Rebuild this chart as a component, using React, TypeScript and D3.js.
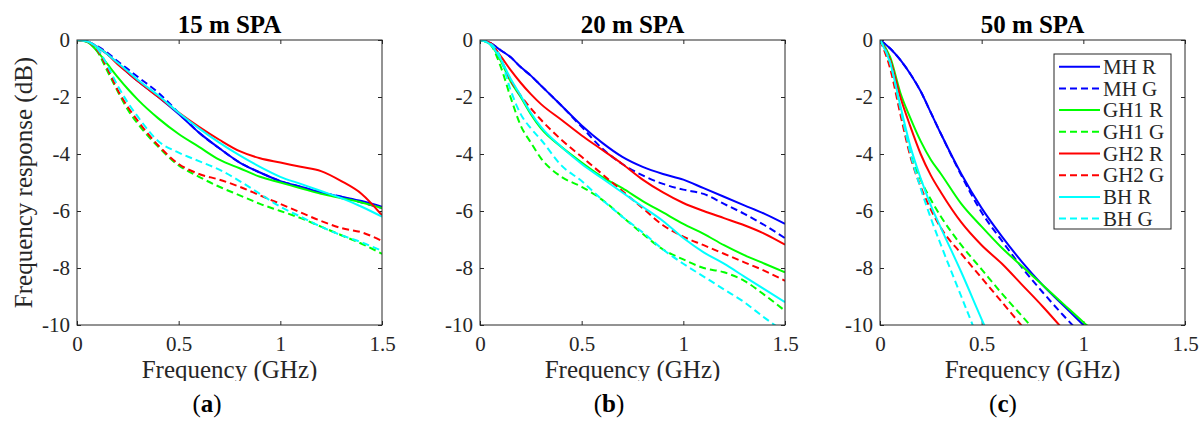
import React, { useEffect, useRef } from 'react';
import * as d3 from 'd3';

// frequency grid (GHz) shared by all curves
const FREQ = [0, 0.05, 0.1, 0.15, 0.2, 0.25, 0.3, 0.4, 0.5, 0.6, 0.7, 0.8, 0.9, 1.0, 1.1, 1.2, 1.3, 1.4, 1.5];
const X_TICKS = [0, 0.5, 1, 1.5];
const Y_TICKS = [0, -2, -4, -6, -8, -10];

const SERIES_NAMES = ['MH R', 'MH G', 'GH1 R', 'GH1 G', 'GH2 R', 'GH2 G', 'BH R', 'BH G'];
const SERIES_COLORS = ['#0000ff', '#0000ff', '#00ff00', '#00ff00', '#ff0000', '#ff0000', '#00ffff', '#00ffff'];
const SERIES_DASHED = [false, true, false, true, false, true, false, true];

const TITLES = ['15 m SPA', '20 m SPA', '50 m SPA'];
const CAPTIONS = ['a', 'b', 'c'];

// (a) 15 m SPA
const mhR15 = [0, -0.05, -0.25, -0.5, -0.82, -1.15, -1.45, -2.0, -2.6, -3.25, -3.8, -4.3, -4.65, -4.95, -5.15, -5.35, -5.5, -5.65, -5.85];
const mhG15 = [0, -0.05, -0.22, -0.45, -0.75, -1.02, -1.3, -1.85, -2.55, -3.25, -3.8, -4.3, -4.65, -4.95, -5.15, -5.35, -5.5, -5.7, -5.9];
const gh1R15 = [0, -0.07, -0.4, -0.85, -1.3, -1.72, -2.1, -2.75, -3.3, -3.75, -4.2, -4.5, -4.8, -5.0, -5.2, -5.4, -5.55, -5.7, -5.9];
const gh1G15 = [0, -0.06, -0.4, -1.1, -1.8, -2.45, -2.95, -3.75, -4.4, -4.8, -5.15, -5.45, -5.75, -6.0, -6.25, -6.55, -6.85, -7.15, -7.5];
const gh2R15 = [0, -0.05, -0.25, -0.5, -0.85, -1.15, -1.45, -2.0, -2.55, -3.05, -3.5, -3.9, -4.15, -4.3, -4.45, -4.6, -4.95, -5.4, -6.15];
const gh2G15 = [0, -0.06, -0.35, -1.0, -1.75, -2.35, -2.85, -3.7, -4.35, -4.7, -4.9, -5.15, -5.45, -5.75, -6.05, -6.35, -6.6, -6.75, -7.05];
const bhR15 = [0, -0.05, -0.25, -0.5, -0.8, -1.1, -1.4, -1.95, -2.55, -3.1, -3.6, -4.05, -4.45, -4.8, -5.05, -5.3, -5.55, -5.85, -6.2];
const bhG15 = [0, -0.05, -0.3, -0.9, -1.6, -2.2, -2.7, -3.55, -3.95, -4.25, -4.55, -4.95, -5.4, -5.85, -6.2, -6.55, -6.85, -7.1, -7.4];

// (b) 20 m SPA
const mhR20 = [0, -0.1, -0.35, -0.6, -0.95, -1.25, -1.6, -2.3, -3.0, -3.6, -4.1, -4.45, -4.7, -4.9, -5.2, -5.5, -5.8, -6.1, -6.45];
const mhG20 = [0, -0.1, -0.35, -0.6, -0.95, -1.25, -1.6, -2.3, -3.05, -3.8, -4.35, -4.75, -5.05, -5.25, -5.4, -5.75, -6.1, -6.5, -6.95];
const gh1R20 = [0, -0.15, -0.7, -1.45, -2.0, -2.6, -3.1, -3.75, -4.3, -4.8, -5.2, -5.65, -6.05, -6.45, -6.8, -7.2, -7.55, -7.85, -8.15];
const gh1G20 = [0, -0.15, -0.9, -2.0, -3.0, -3.6, -4.15, -4.8, -5.15, -5.6, -6.2, -6.8, -7.35, -7.7, -8.0, -8.15, -8.45, -8.95, -9.5];
const gh2R20 = [0, -0.1, -0.55, -1.05, -1.5, -1.9, -2.25, -2.8, -3.35, -3.85, -4.35, -4.9, -5.35, -5.72, -6.0, -6.25, -6.5, -6.8, -7.18];
const gh2G20 = [0, -0.1, -0.65, -1.4, -1.95, -2.4, -2.8, -3.5, -4.1, -4.7, -5.3, -5.9, -6.5, -6.9, -7.2, -7.5, -7.8, -8.1, -8.45];
const bhR20 = [0, -0.15, -0.65, -1.35, -1.95, -2.55, -3.05, -3.75, -4.35, -4.85, -5.35, -5.85, -6.35, -6.95, -7.45, -7.85, -8.3, -8.75, -9.2];
const bhG20 = [0, -0.12, -0.6, -1.75, -2.6, -3.1, -3.5, -4.4, -4.95, -5.6, -6.2, -6.75, -7.35, -7.85, -8.3, -8.75, -9.2, -9.75, -10.25];

// (c) 50 m SPA (curves leave the box at -10 dB)
const mhR50 = [0, -0.3, -0.7, -1.2, -1.8, -2.55, -3.3, -4.7, -5.9, -6.9, -7.8, -8.6, -9.3, -10.0, -10.7, null, null, null, null];
const mhG50 = [0, -0.3, -0.7, -1.2, -1.8, -2.55, -3.3, -4.75, -6.05, -7.05, -8.0, -8.85, -9.65, -10.4, null, null, null, null, null];
const gh1R50 = [0, -0.6, -1.85, -2.75, -3.55, -4.2, -4.7, -5.75, -6.55, -7.3, -7.95, -8.6, -9.25, -9.9, -10.5, null, null, null, null];
const gh1G50 = [0, -0.9, -2.45, -4.0, -4.9, -5.6, -6.2, -7.2, -8.05, -8.9, -9.7, -10.5, null, null, null, null, null, null, null];
const gh2R50 = [0, -0.7, -2.0, -3.05, -4.0, -4.75, -5.35, -6.4, -7.2, -7.85, -8.6, -9.35, -10.15, null, null, null, null, null, null];
const gh2G50 = [0, -1.0, -2.6, -4.1, -5.15, -5.95, -6.6, -7.5, -8.35, -9.2, -10.05, null, null, null, null, null, null, null, null];
const bhR50 = [0, -0.8, -2.3, -3.75, -4.85, -5.8, -6.6, -8.15, -9.8, -11.4, null, null, null, null, null, null, null, null, null];
const bhG50 = [0, -0.8, -2.4, -4.0, -5.2, -6.25, -7.2, -9.0, -10.8, null, null, null, null, null, null, null, null, null, null];

const PANELS = [
  [mhR15, mhG15, gh1R15, gh1G15, gh2R15, gh2G15, bhR15, bhG15],
  [mhR20, mhG20, gh1R20, gh1G20, gh2R20, gh2G20, bhR20, bhG20],
  [mhR50, mhG50, gh1R50, gh1G50, gh2R50, gh2G50, bhR50, bhG50],
];

const W = 1204;
const H = 424;
const PANEL_LEFT = [77, 480, 880];
const PLOT_W = 305;
const TOP = 40;
const BOTTOM = 325;
const CAPTION_X = [207, 609, 1003];
const FONT = '"Liberation Serif", "Times New Roman", serif';
const INK = '#262626';

const App = () => {
  const ref = useRef<SVGSVGElement>(null);

  useEffect(() => {
    const svg = d3.select(ref.current);
    svg.selectAll('*').remove();

    svg.append('rect').attr('width', W).attr('height', H).attr('fill', '#fff');

    // descenders of the x labels are cut in the original figure
    svg.append('clipPath').attr('id', 'xlabel-clip')
      .append('rect').attr('x', 0).attr('y', 0).attr('width', W).attr('height', 381);

    PANELS.forEach((series, p) => {
      const left = PANEL_LEFT[p];
      const x = d3.scaleLinear().domain([0, 1.5]).range([left, left + PLOT_W]);
      const y = d3.scaleLinear().domain([-10, 0]).range([BOTTOM, TOP]);

      const clipId = `plot-clip-${p}`;
      svg.append('clipPath').attr('id', clipId)
        .append('rect')
        .attr('x', left).attr('y', TOP)
        .attr('width', PLOT_W).attr('height', BOTTOM - TOP);

      // ticks (inside, on all four sides)
      const styleAxis = (g: any) => {
        g.select('.domain').remove();
        g.selectAll('.tick line').attr('stroke', INK);
        g.selectAll('.tick text')
          .attr('fill', INK)
          .attr('font-family', FONT)
          .attr('font-size', 21);
      };

      svg.append('g')
        .attr('transform', `translate(0,${BOTTOM})`)
        .call(d3.axisBottom(x).tickValues(X_TICKS).tickSize(-4).tickPadding(11).tickFormat((d: any) => String(d)))
        .call(styleAxis);
      svg.append('g')
        .attr('transform', `translate(0,${TOP})`)
        .call(d3.axisTop(x).tickValues(X_TICKS).tickSize(-4).tickFormat(() => ''))
        .call(styleAxis);
      svg.append('g')
        .attr('transform', `translate(${left},0)`)
        .call(d3.axisLeft(y).tickValues(Y_TICKS).tickSize(-4).tickPadding(7).tickFormat((d: any) => String(d)))
        .call(styleAxis);
      svg.append('g')
        .attr('transform', `translate(${left + PLOT_W},0)`)
        .call(d3.axisRight(y).tickValues(Y_TICKS).tickSize(-4).tickFormat(() => ''))
        .call(styleAxis);

      // curves
      const line = d3.line<number | null>()
        .defined(d => d != null)
        .x((_, i) => x(FREQ[i]))
        .y(d => y(d as number))
        .curve(d3.curveMonotoneX);

      const curves = svg.append('g').attr('clip-path', `url(#${clipId})`);
      series.forEach((vals, s) => {
        curves.append('path')
          .attr('d', line(vals))
          .attr('fill', 'none')
          .attr('stroke', SERIES_COLORS[s])
          .attr('stroke-width', 2)
          .attr('stroke-dasharray', SERIES_DASHED[s] ? '7,4' : null);
      });

      // box
      svg.append('rect')
        .attr('x', left).attr('y', TOP)
        .attr('width', PLOT_W).attr('height', BOTTOM - TOP)
        .attr('fill', 'none')
        .attr('stroke', INK)
        .attr('stroke-width', 1);

      // title
      svg.append('text')
        .attr('x', left + PLOT_W / 2).attr('y', 33)
        .attr('text-anchor', 'middle')
        .attr('font-family', FONT).attr('font-size', 25).attr('font-weight', 'bold')
        .attr('fill', '#000')
        .text(TITLES[p]);

      // x label
      svg.append('text')
        .attr('x', left + PLOT_W / 2).attr('y', 378)
        .attr('text-anchor', 'middle')
        .attr('clip-path', 'url(#xlabel-clip)')
        .attr('font-family', FONT).attr('font-size', 25)
        .attr('fill', INK)
        .text('Frequency (GHz)');

      // sub caption
      const cap = svg.append('text')
        .attr('x', CAPTION_X[p]).attr('y', 412)
        .attr('text-anchor', 'middle')
        .attr('font-family', FONT).attr('font-size', 25)
        .attr('fill', '#000');
      cap.append('tspan').text('(');
      cap.append('tspan').attr('font-weight', 'bold').text(CAPTIONS[p]);
      cap.append('tspan').text(')');
    });

    // y label (first panel only)
    svg.append('text')
      .attr('transform', `translate(32,${(TOP + BOTTOM) / 2}) rotate(-90)`)
      .attr('text-anchor', 'middle')
      .attr('font-family', FONT).attr('font-size', 25)
      .attr('fill', INK)
      .text('Frequency response (dB)');

    // legend in panel (c)
    const lg = svg.append('g');
    lg.append('rect')
      .attr('x', 1054).attr('y', 54)
      .attr('width', 117).attr('height', 175)
      .attr('fill', '#fff')
      .attr('stroke', INK)
      .attr('stroke-width', 1);
    SERIES_NAMES.forEach((name, s) => {
      const ly = 66.7 + s * 21.7;
      lg.append('line')
        .attr('x1', 1059).attr('x2', 1100)
        .attr('y1', ly).attr('y2', ly)
        .attr('stroke', SERIES_COLORS[s])
        .attr('stroke-width', 2)
        .attr('stroke-dasharray', SERIES_DASHED[s] ? '7,4' : null);
      lg.append('text')
        .attr('x', 1103).attr('y', ly)
        .attr('dy', '0.34em')
        .attr('font-family', FONT).attr('font-size', 21)
        .attr('fill', INK)
        .text(name);
    });
  }, []);

  return (
    <svg
      ref={ref}
      width={W}
      height={H}
      style={{ position: 'absolute', left: 0, top: 0, display: 'block' }}
    />
  );
};

export default App;
